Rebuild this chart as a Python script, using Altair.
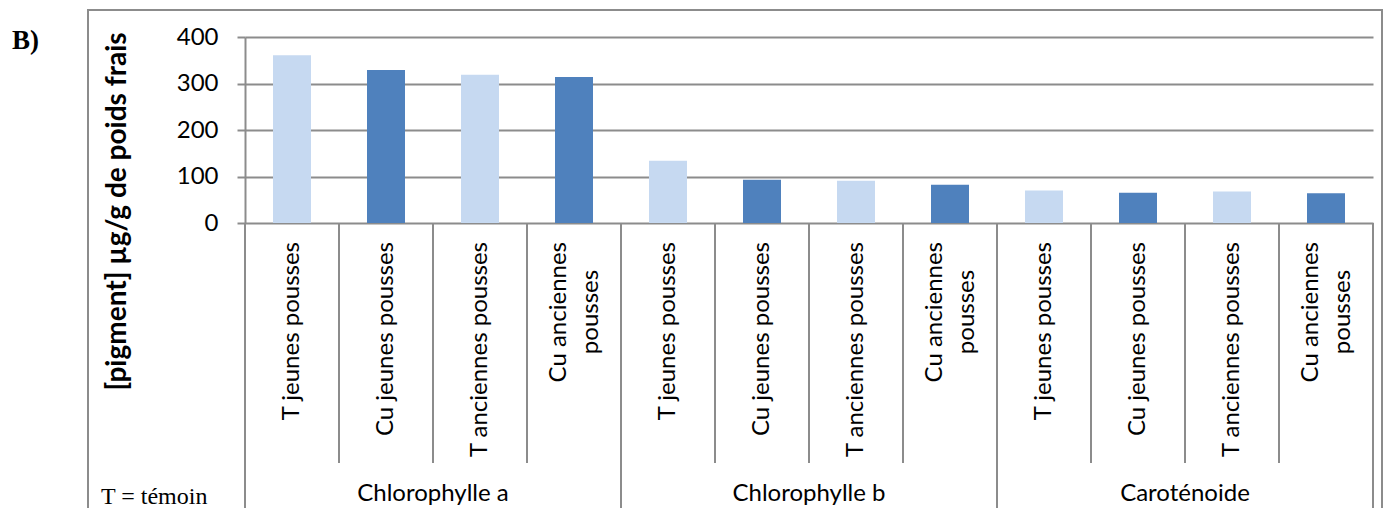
import altair as alt
import pandas as pd

pigments = ["Chlorophylle a", "Chlorophylle b", "Caroténoide"]
treatments = ["T jeunes pousses", "Cu jeunes pousses", "T anciennes pousses", "Cu anciennes pousses"]
label_line1 = ["T jeunes pousses", "Cu jeunes pousses", "T anciennes pousses", "Cu anciennes"]
label_line2 = ["", "", "", "pousses"]
controls = ["T", "Cu", "T", "Cu"]
chl_a = [361, 329, 319, 314]
chl_b = [134, 93, 91, 82]
carot = [70, 65, 68, 64]
y_ticks = [0, 100, 200, 300, 400]

rows = []
for g, vals in zip(pigments, [chl_a, chl_b, carot]):
    for i, (t, v) in enumerate(zip(treatments, vals)):
        rows.append(dict(key=f"{g}|{t}", pigment=g, treatment=t, idx=i, value=v,
                         ctrl=controls[i], l1=label_line1[i], l2=label_line2[i]))
df = pd.DataFrame(rows)
keys = list(df["key"])

FONT = "Lato"
GRID = "#8c8c8c"
W, H = 1128, 186

xscale = alt.Scale(type="band", domain=keys, paddingInner=0, paddingOuter=0)

def X(bp=0.5):
    return alt.X("key:N", scale=xscale, axis=None, bandPosition=bp)

base = alt.Chart(df)

bars = base.mark_bar(size=38).encode(
    x=X(),
    y=alt.Y("value:Q",
            scale=alt.Scale(domain=[0, 400], nice=False),
            axis=alt.Axis(values=y_ticks, grid=True, gridColor=GRID, gridWidth=2,
                          domain=True, domainColor=GRID, domainWidth=2,
                          ticks=True, tickColor=GRID, tickWidth=2, tickSize=8,
                          labelFont=FONT, labelFontSize=24, labelColor="black",
                          labelPadding=19,
                          title="[pigment] µg/g de poids frais",
                          titleFont=FONT, titleFontSize=28, titleFontWeight="bold",
                          titleColor="black", titleAngle=270, titleAlign="center",
                          titleBaseline="middle", titleX=-128, titleY=174)),
    color=alt.Color("ctrl:N", scale=alt.Scale(domain=["T", "Cu"], range=["#C6D9F1", "#4F81BD"]),
                    legend=None),
)

sep_short = base.transform_filter("datum.idx > 0").mark_rule(color=GRID, strokeWidth=2).encode(
    x=X(0), y=alt.value(H), y2=alt.value(426))
sep_long = base.transform_filter("datum.idx == 0").mark_rule(color=GRID, strokeWidth=2).encode(
    x=X(0), y=alt.value(H), y2=alt.value(500))
sep_end = base.transform_filter(f"datum.key == '{keys[-1]}'").mark_rule(color=GRID, strokeWidth=2).encode(
    x=X(1), y=alt.value(H), y2=alt.value(500))

LAB = 24
lab_single = base.transform_filter("datum.l2 == ''").mark_text(
    angle=270, align="right", baseline="middle", font=FONT, fontSize=LAB, color="black").encode(
    x=X(), y=alt.value(205), text="l1:N")
lab_two_a = base.transform_filter("datum.l2 != ''").mark_text(
    angle=270, align="right", baseline="middle", font=FONT, fontSize=LAB, color="black", dy=-15).encode(
    x=X(), y=alt.value(205), text="l1:N")
lab_two_b = base.transform_filter("datum.l2 != ''").mark_text(
    angle=270, align="center", baseline="middle", font=FONT, fontSize=LAB, color="black", dy=17).encode(
    x=X(), y=alt.value(275), text="l2:N")

group_lab = base.transform_filter("datum.idx == 2").mark_text(
    align="center", baseline="alphabetic", font=FONT, fontSize=24, color="black").encode(
    x=X(0), y=alt.value(464), text="pigment:N")

note = alt.Chart(pd.DataFrame({"t": ["T = témoin"]})).mark_text(
    align="left", baseline="alphabetic", font="Liberation Serif", fontSize=24, color="black").encode(
    x=alt.value(-144), y=alt.value(467), text="t:N")
panel = alt.Chart(pd.DataFrame({"t": ["B)"]})).mark_text(
    align="left", baseline="alphabetic", font="Liberation Serif", fontSize=27,
    fontWeight="bold", color="black").encode(
    x=alt.value(-233), y=alt.value(12), text="t:N")

border = alt.Chart(pd.DataFrame({"a": [0]})).mark_rect(
    fill=None, stroke=GRID, strokeWidth=2).encode(
    x=alt.value(-157), x2=alt.value(1137), y=alt.value(-27), y2=alt.value(500))

chart = alt.layer(border, bars, sep_short, sep_long, sep_end, lab_single, lab_two_a, lab_two_b,
                  group_lab, note, panel).properties(
    width=W, height=H,
    autosize=alt.AutoSizeParams(type="none"),
    padding={"left": 237, "top": 29, "right": 10, "bottom": 285},
).configure_view(stroke=None)

chart.save("out.html", embed_options={"renderer": "svg", "actions": False})
